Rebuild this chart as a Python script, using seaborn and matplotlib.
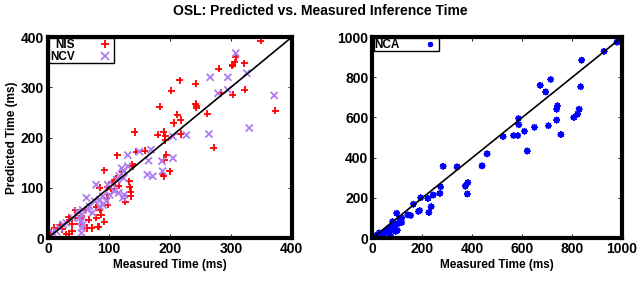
import numpy as np
import pandas as pd
import seaborn as sns
import matplotlib.pyplot as plt

# NIS / NCV (left panel), measured vs predicted time in ms
nis_measured = [349, 308, 306, 303, 302, 322, 280, 216, 242, 202, 284, 303, 323, 242, 243, 243,
                183, 212, 218, 206, 261, 373, 272, 142, 180, 190, 192, 218, 192, 159, 145, 114,
                194, 191, 200, 188, 190, 92, 122, 138, 139, 133, 105, 112, 97, 85, 104, 116,
                134, 136, 136, 127, 96, 98, 79, 62, 45, 34, 87, 79, 83, 82, 72, 64, 92, 45,
                40, 35, 30, 40, 23, 19, 10, 5, 52, 35, 55, 67, 85, 110]
nis_predicted = [393, 360, 350, 345, 343, 348, 337, 314, 307, 293, 289, 285, 295, 267, 263, 259,
                 261, 245, 235, 229, 247, 253, 180, 211, 206, 211, 204, 207, 195, 174, 172, 165,
                 166, 156, 133, 128, 123, 135, 132, 147, 143, 113, 111, 118, 101, 100, 98, 104,
                 101, 92, 83, 72, 80, 66, 61, 56, 55, 41, 46, 40, 22, 22, 20, 20, 32, 40,
                 13, 8, 7, 27, 17, 25, 20, 10, 28, 36, 43, 36, 56, 113]
ncv_measured = [308, 266, 295, 326, 295, 279, 371, 330, 264, 227, 205, 205, 187, 188, 172, 163,
                169, 150, 131, 165, 131, 124, 121, 124, 106, 98, 79, 63, 109, 116, 123, 125,
                101, 90, 85, 77, 68, 57, 55, 52, 55, 56, 55, 57, 49, 41, 30, 25, 19, 14, 8,
                65, 73, 85, 90, 96, 113, 117]
ncv_predicted = [368, 320, 320, 328, 295, 288, 284, 219, 207, 205, 202, 159, 153, 133, 123, 126,
                 176, 172, 165, 154, 143, 133, 139, 119, 106, 106, 106, 80, 93, 90, 80, 86,
                 86, 83, 76, 73, 63, 56, 46, 40, 33, 20, 10, 27, 53, 40, 30, 27, 20, 13, 10,
                 56, 50, 63, 66, 73, 116, 123]

# NCA (right panel)
nca_measured = [980, 928, 838, 834, 714, 672, 694, 741, 738, 738, 828, 822, 807, 705, 755, 649,
                609, 585, 586, 582, 565, 523, 620, 459, 439, 339, 283, 382, 372, 380, 273, 270,
                243, 222, 235, 226, 193, 189, 184, 164, 153, 142, 97, 117, 117, 106, 110, 100,
                93, 80, 76, 66, 66, 60, 53, 40, 27, 20, 13, 44, 84, 93, 73]
nca_predicted = [975, 929, 885, 753, 789, 760, 727, 658, 641, 587, 641, 617, 600, 559, 515, 551,
                 531, 595, 564, 510, 510, 505, 433, 419, 359, 354, 357, 276, 258, 219, 255, 222,
                 214, 197, 156, 127, 201, 137, 132, 168, 112, 115, 123, 99, 77, 74, 99, 38,
                 66, 82, 58, 49, 25, 33, 33, 25, 25, 16, 12, 21, 41, 33, 8]

left_ticks = [0, 100, 200, 300, 400]
right_ticks = [0, 200, 400, 600, 800, 1000]

left_df = pd.concat([
    pd.DataFrame({"measured": nis_measured, "predicted": nis_predicted, "set": "NIS"}),
    pd.DataFrame({"measured": ncv_measured, "predicted": ncv_predicted, "set": "NCV"}),
])
right_df = pd.DataFrame({"measured": nca_measured, "predicted": nca_predicted, "set": "NCA"})

sns.set_style("ticks")
plt.rcParams["font.family"] = ["Liberation Sans", "DejaVu Sans"]
plt.rcParams["font.weight"] = "bold"
plt.rcParams["text.color"] = "black"
plt.rcParams["axes.labelcolor"] = "black"

fig = plt.figure(figsize=(6.4, 2.81), dpi=100)
ax1 = fig.add_axes([0.075, 0.153, 0.381, 0.715])
ax2 = fig.add_axes([0.582, 0.153, 0.390, 0.715])

sns.scatterplot(data=left_df, x="measured", y="predicted", hue="set", style="set",
                palette={"NIS": "#ff0000", "NCV": "#b07cf0"},
                markers={"NIS": "+", "NCV": "x"}, s=26, linewidth=1.3, ax=ax1)
sns.scatterplot(data=right_df, x="measured", y="predicted", hue="set", style="set",
                palette={"NCA": "#0000ff"}, markers={"NCA": (8, 2, 0)},
                s=14, linewidth=1.2, ax=ax2)

for ax, ticks in [(ax1, left_ticks), (ax2, right_ticks)]:
    lim = ticks[-1]
    ax.plot([ticks[0], lim], [ticks[0], lim], color="black", lw=1.2, zorder=1)
    ax.set_xlim(0, lim)
    ax.set_ylim(0, lim)
    ax.set_xticks(ticks)
    ax.set_yticks(ticks)
    ax.tick_params(direction="in", length=3, width=0.6, top=True, right=True,
                   labelsize=10, pad=3, color="black", labelcolor="black")
    for lab in ax.get_xticklabels() + ax.get_yticklabels():
        lab.set_fontweight("bold")
    for sp in ax.spines.values():
        sp.set_linewidth(3)
        sp.set_color("black")
        sp.set_visible(True)
    ax.set_xlabel("Measured Time (ms)", fontsize=8.5, fontweight="bold", labelpad=2)
    ax.set_ylabel("")
    leg = ax.legend(loc="upper left", markerfirst=False, frameon=True, fancybox=False,
                    edgecolor="black", borderaxespad=0.1, handlelength=1.5,
                    handletextpad=1.8, borderpad=0.05, labelspacing=0.0,
                    prop={"weight": "bold", "size": 8.5})
    leg.get_frame().set_linewidth(1.0)
    leg.get_frame().set_alpha(1)
    for t in leg.get_texts():
        t.set_color("black")

ax1.set_ylabel("Predicted Time (ms)", fontsize=8.5, fontweight="bold", labelpad=2)
fig.suptitle("OSL: Predicted vs. Measured Inference Time", fontsize=10,
             fontweight="bold", y=0.985, color="black")

fig.savefig("out.png", dpi=100)
